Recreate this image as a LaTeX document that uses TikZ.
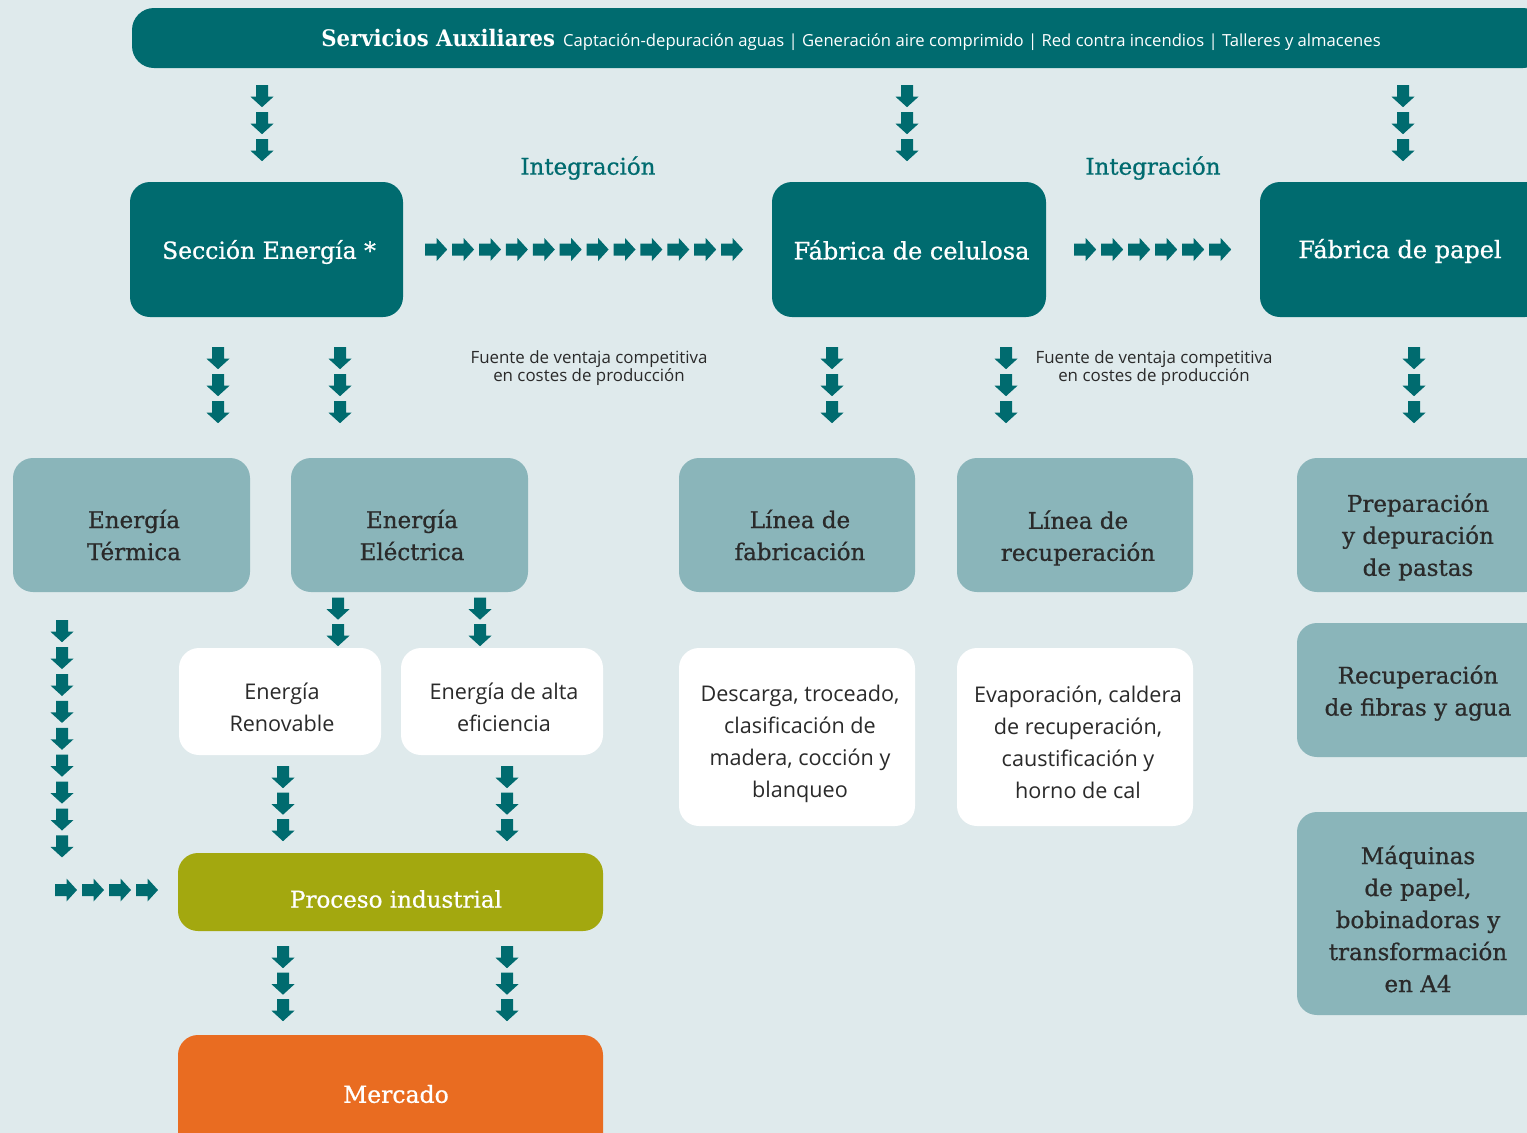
\documentclass[tikz,border=0pt]{standalone}
\usepackage{fontspec}
\setmainfont{Open Sans}
\newfontfamily\slab{DejaVu Serif}[FakeBold=0.8]
\newfontfamily\slabb{DejaVu Serif}[FakeStretch=0.93]
\newfontfamily\sans{Open Sans}
\usetikzlibrary{decorations.markings}
\definecolor{bg}{HTML}{DFEAEC}
\definecolor{tealdk}{HTML}{006B6F}
\definecolor{lteal}{HTML}{8AB5BA}
\definecolor{olivegr}{HTML}{A3A80F}
\definecolor{orangeb}{HTML}{E96C21}
\definecolor{txt}{HTML}{2A2A2A}
\newcommand\arrowglyph{\fill[tealdk] (-11pt,-6pt) -- (0.5pt,-6pt) -- (0.5pt,-11.5pt) -- (11pt,0pt) -- (0.5pt,11.5pt) -- (0.5pt,6pt) -- (-11pt,6pt) -- cycle;}
\tikzset{
  box/.style={rounded corners=20pt, inner sep=0pt},
  sz/.style 2 args={minimum width=#1pt, minimum height=#2pt},
  dbox/.style={box, fill=tealdk},
  lbox/.style={box, fill=lteal},
  wbox/.style={box, fill=white},
  dtext/.style={inner sep=0pt, align=center, text=white, font=\slab\fontsize{24}{30}\selectfont},
  ltext/.style={inner sep=0pt, align=center, text=txt, font=\slab\fontsize{23}{32}\selectfont},
  wtext/.style={inner sep=0pt, align=center, text=txt, font=\sans\fontsize{21.6}{32}\selectfont},
  integ/.style={text=tealdk, font=\slab\fontsize{23}{28}\selectfont},
  fuente/.style={text=txt, align=center, font=\sans\fontsize{16.9}{18}\selectfont},
  arrowrow/.style n args={3}{decoration={markings, mark=between positions #1 and #2 step #3 with {\arrowglyph}}, postaction={decorate}},
}
\begin{document}
\begin{tikzpicture}[x=1pt,y=-1pt]
\useasboundingbox (0,0) rectangle (1527,1133);
\fill[bg] (0,0) rectangle (1527,1133);
\clip (0,0) rectangle (1527,1133);
% boxes
\node[dbox, sz={1413}{60}, rounded corners=22pt] (bar) at (838.5,38) {};
\node[text=white, inner sep=0pt] (bartext) at (851,40) {{\slabb\bfseries\fontsize{22.8}{26}\selectfont Servicios Auxiliares}\hspace{8pt}{\sans\fontsize{16.65}{20}\selectfont Captación-depuración aguas | Generación aire comprimido | Red contra incendios | Talleres y almacenes}};
\node[dbox, sz={273}{135}] (sec) at (266.5,249.5) {};
\node[dbox, sz={274}{135}] (cel) at (909,249.5) {};
\node[dbox, sz={285}{135}] (pap) at (1402.5,249.5) {};
\node[dtext, font=\slab\fontsize{23.5}{30}\selectfont] (sect) at (269,252) {Sección Energía *};
\node[dtext] (celt) at (911.5,250) {Fábrica de celulosa};
\node[dtext] (papt) at (1400,251) {Fábrica de papel};
\node[integ] (int1) at (588,168) {Integración};
\node[integ] (int2) at (1153,168) {Integración};
\node[fuente] (fu1) at (589,368) {Fuente de ventaja competitiva\\en costes de producción};
\node[fuente] (fu2) at (1154,368) {Fuente de ventaja competitiva\\en costes de producción};
\node[lbox, sz={237}{134}] (term) at (131.5,525) {};
\node[lbox, sz={237}{134}] (elec) at (409.5,525) {};
\node[lbox, sz={236}{134}] (fab) at (797,525) {};
\node[lbox, sz={236}{134}] (rec) at (1075,525) {};
\node[lbox, sz={248}{134}] (prep) at (1421,525) {};
\node[lbox, sz={248}{134}] (fib) at (1421,690) {};
\node[lbox, sz={248}{203}] (maq) at (1421,913.5) {};
\node[ltext] (termt) at (134,535) {Energía\\Térmica};
\node[ltext] (elect) at (412,535) {Energía\\Eléctrica};
\node[ltext] (fabt) at (800,535) {Línea de\\fabricación};
\node[ltext] (rect) at (1078,538) {Línea de\\recuperación};
\node[ltext] (prept) at (1418,537) {Preparación\\y depuración\\de pastas};
\node[ltext] (fibt) at (1418,693) {Recuperación\\de fibras y agua};
\node[ltext] (maqt) at (1418,919) {Máquinas\\de papel,\\bobinadoras y\\transformación\\en A4};
\node[wbox, sz={202}{107}] (ren) at (280,701.5) {};
\node[wbox, sz={202}{107}] (alta) at (502,701.5) {};
\node[wbox, sz={236}{178}] (desc) at (797,737) {};
\node[wbox, sz={236}{178}] (evap) at (1075,737) {};
\node[wtext] (rent) at (282,707) {Energía\\Renovable};
\node[wtext] (altat) at (504,707) {Energía de alta\\eficiencia};
\node[wtext] (desct) at (800,744) {Descarga, troceado,\\clasificación de\\madera, cocción y\\blanqueo};
\node[wtext] (evapt) at (1078,742) {Evaporación, caldera\\de recuperación,\\caustificación y\\horno de cal};
\node[box, fill=olivegr, sz={425}{78}] (proc) at (390.5,892) {};
\node[dtext, font=\slab\fontsize{23}{30}\selectfont] (proct) at (396,899) {Proceso industrial};
\node[box, fill=orangeb, sz={425}{130}] (merc) at (390.5,1100) {};
\node[dtext, font=\slab\fontsize{23.5}{30}\selectfont] (merct) at (396,1094) {Mercado};
\coordinate (corner) at (62,890);
% arrow chains
\path[arrowrow={28pt}{83pt}{27pt}] ([xshift=-4.5pt]sec.north |- bar.south) -- ([xshift=-4.5pt]sec.north);
\path[arrowrow={28pt}{83pt}{27pt}] ([xshift=-2pt]cel.north |- bar.south) -- ([xshift=-2pt]cel.north);
\path[arrowrow={28pt}{83pt}{27pt}] ([xshift=0.5pt]pap.north |- bar.south) -- ([xshift=0.5pt]pap.north);
\path[arrowrow={41pt}{96pt}{27pt}] ([xshift=-48.5pt]sec.south) -- ([xshift=-48.5pt]sec.south |- term.north);
\path[arrowrow={41pt}{96pt}{27pt}] ([xshift=73.5pt]sec.south) -- ([xshift=73.5pt]sec.south |- elec.north);
\path[arrowrow={41pt}{96pt}{27pt}] ([xshift=-77pt]cel.south) -- ([xshift=-77pt]cel.south |- fab.north);
\path[arrowrow={41pt}{96pt}{27pt}] ([xshift=97pt]cel.south) -- ([xshift=97pt]cel.south |- rec.north);
\path[arrowrow={41pt}{96pt}{27pt}] ([xshift=11.5pt]pap.south) -- ([xshift=11.5pt]pap.south |- prep.north);
\path[arrowrow={33pt}{329.5pt}{26.9pt}] (sec.east) -- (cel.west);
\path[arrowrow={39pt}{174.5pt}{27pt}] (cel.east) -- (pap.west);
\path[arrowrow={16.5pt}{44pt}{26.5pt}] ([xshift=-71.5pt]elec.south) -- ([xshift=-71.5pt]elec.south |- ren.north);
\path[arrowrow={16.5pt}{44pt}{26.5pt}] ([xshift=70.5pt]elec.south) -- ([xshift=70.5pt]elec.south |- alta.north);
\path[arrowrow={39pt}{255pt}{26.9pt}] (term.south -| corner) -- (corner);
\path[arrowrow={4pt}{86pt}{27pt}] (corner) -- (corner -| proc.west);
\path[arrowrow={22pt}{76pt}{26.5pt}] ([xshift=3pt]ren.south) -- ([xshift=3pt]ren.south |- proc.north);
\path[arrowrow={22pt}{76pt}{26.5pt}] ([xshift=5pt]alta.south) -- ([xshift=5pt]alta.south |- proc.north);
\path[arrowrow={26pt}{80pt}{26.5pt}] ([xshift=-107.5pt]proc.south) -- ([xshift=-107.5pt]proc.south |- merc.north);
\path[arrowrow={26pt}{80pt}{26.5pt}] ([xshift=116.5pt]proc.south) -- ([xshift=116.5pt]proc.south |- merc.north);
\end{tikzpicture}
\end{document}
